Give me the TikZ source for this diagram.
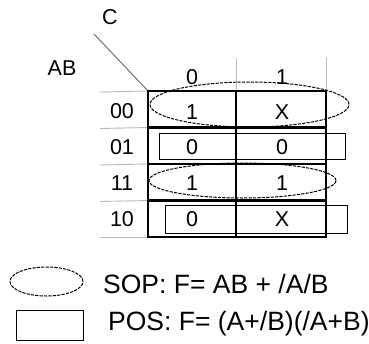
\documentclass[tikz,border=0pt]{standalone}
\usepackage{fontspec}
\setmainfont{Liberation Sans}
\usetikzlibrary{shapes.geometric}

\begin{document}
\begin{tikzpicture}[
    x=1pt, y=-1pt,
    every node/.style={inner sep=0pt},
    label/.style={font=\fontsize{21.5}{21.5}\selectfont},
    legend/.style={font=\fontsize{26.5}{26.5}\selectfont, anchor=base west},
    group/.style={draw, ellipse, dash pattern=on 3.2pt off 1.2pt, line width=1pt},
    cover/.style={draw, rectangle, line width=0.9pt},
    guide/.style={draw=gray!55, line width=0.9pt}
]

\useasboundingbox (0,0) rectangle (369,343);

% ================= corner labels =================

\coordinate (d0) at (94,34);
\coordinate (g00) at (148,91);
\draw[gray!80!black, line width=0.9pt] (d0) -- (g00);

\node[label] (c) at (110,17) {C};
\node[label] (ab) at (62,68) {AB};

% ================= grid =================

\coordinate (g01) at (236,91);
\coordinate (g02) at (326,91);
\coordinate (g10) at (148,127.5);
\coordinate (g12) at (326,127.5);
\coordinate (g20) at (148,164);
\coordinate (g22) at (326,164);
\coordinate (g30) at (148,200.5);
\coordinate (g32) at (326,200.5);
\coordinate (g40) at (148,237);
\coordinate (g41) at (236,237);
\coordinate (g42) at (326,237);

% light guide lines
\coordinate (h0) at (100,92);
\coordinate (h1) at (100,128.5);
\coordinate (h2) at (100,165);
\coordinate (h3) at (100,201.5);
\coordinate (h4) at (100,237);
\coordinate (v1) at (236,58);
\coordinate (v2) at (326,58);

\draw[guide] (h0) -- (g00);
\draw[guide] (h1) -- (g10);
\draw[guide] (h2) -- (g20);
\draw[guide] (h3) -- (g30);
\draw[guide] (h4) -- (g40);
\draw[guide] (v1) -- (g01);
\draw[guide] (v2) -- (g02);

\draw[line width=2.2pt] (g10) -- (g12);
\draw[line width=2.2pt] (g20) -- (g22);
\draw[line width=2.2pt] (g30) -- (g32);
\draw[line width=2.2pt] (g01) -- (g41);
\draw[line width=2.8pt] (g00) rectangle (g42);

% ================= headers =================

\node[label] (c0) at (192,77) {0};
\node[label] (c1) at (282,77) {1};

\node[label] (r00) at (122,111) {00};
\node[label] (r01) at (122,147) {01};
\node[label] (r11) at (122,183) {11};
\node[label] (r10) at (122,219) {10};

% ================= cells =================

\node[label] (m00) at (192,112) {1};
\node[label] (m01) at (282,112) {X};
\node[label] (m10) at (192,147) {0};
\node[label] (m11) at (282,147) {0};
\node[label] (m20) at (192,183) {1};
\node[label] (m21) at (282,183) {1};
\node[label] (m30) at (192,219) {0};
\node[label] (m31) at (282,219) {X};

% ================= groups =================

\node[group, minimum width=199pt, minimum height=45pt] (sop1) at (249.5,104.5) {};
\node[group, minimum width=187pt, minimum height=35pt] (sop2) at (242.5,180.5) {};
\node[cover, minimum width=186pt, minimum height=26pt] (pos1) at (252,146) {};
\node[cover, minimum width=182pt, minimum height=28pt] (pos2) at (256,219) {};

% ================= legend =================

\node[group, minimum width=73pt, minimum height=29pt] (keysop) at (46.5,281.5) {};
\node[cover, minimum width=67pt, minimum height=30pt] (keypos) at (49.5,325) {};

\node[legend] (tsop) at (103,293) {SOP: F= AB + /A/B};
\node[legend] (tpos) at (108,330) {POS: F= (A+/B)(/A+B)};

\end{tikzpicture}
\end{document}
